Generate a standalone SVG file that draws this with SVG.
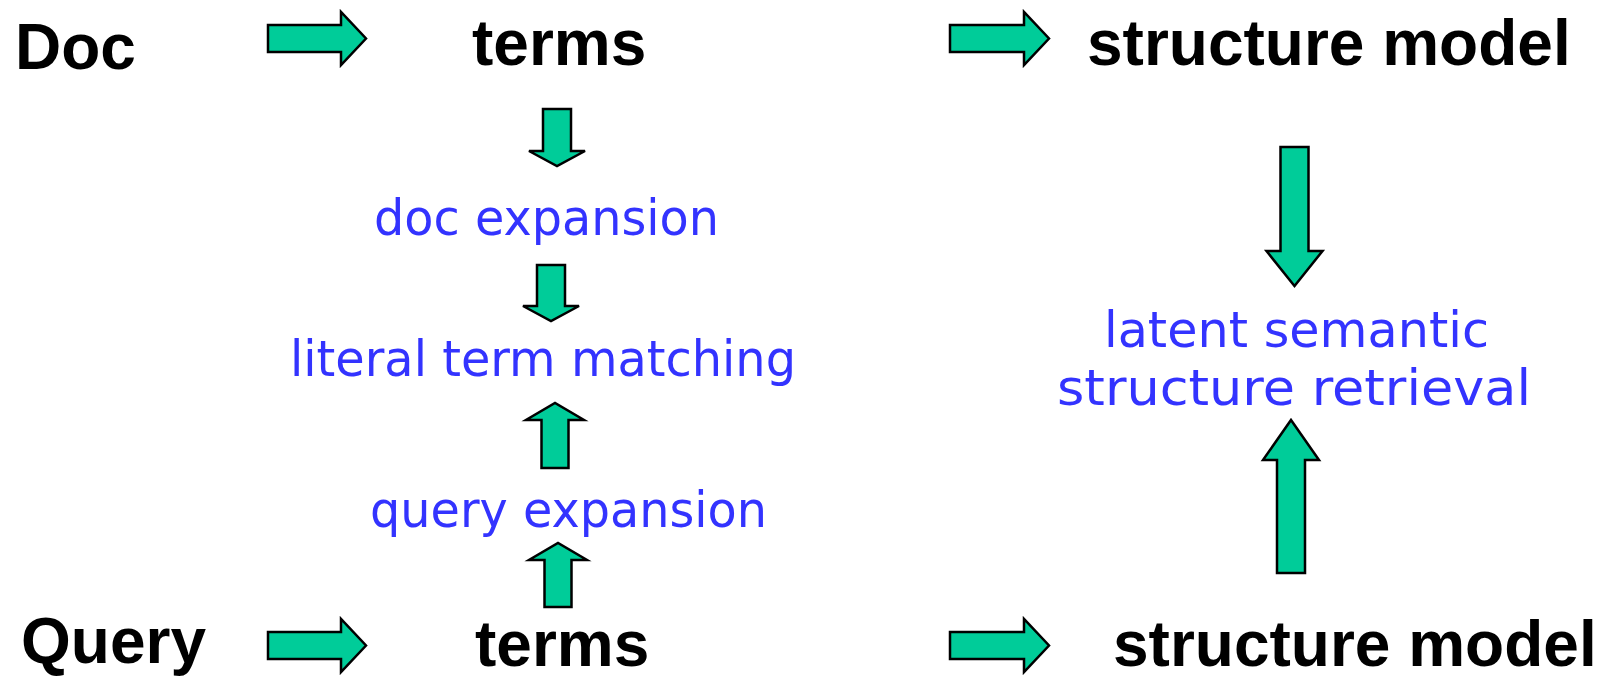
<svg xmlns="http://www.w3.org/2000/svg" width="1606" height="677" viewBox="0 0 1606 677">
<style>
.lbl{font-family:"Liberation Sans",Arial,sans-serif;font-weight:bold;font-size:64px;fill:#000}
.blue{font-family:"DejaVu Sans","Noto Sans",sans-serif;font-size:50px;fill:#3333FF;text-anchor:middle}
.arr{fill:#00CC99;stroke:#000;stroke-width:2.5;stroke-linejoin:miter}
</style>
<rect width="1606" height="677" fill="#fff"/>
<g id="connectors">
<path class="arr" d="M268,25 H341 V12 L366,38.5 L341,65 V52 H268 Z"/>
<path class="arr" d="M950,25 H1024 V12 L1049,38.5 L1024,65 V52 H950 Z"/>
<path class="arr" d="M268,632 H341 V619 L366,645.5 L341,672 V659 H268 Z"/>
<path class="arr" d="M950,632 H1024 V619 L1049,645.5 L1024,672 V659 H950 Z"/>
<path class="arr" d="M543,109 H571 V151 H585 L557,166 L529,151 H543 Z"/>
<path class="arr" d="M537,265 H565 V306 H579 L551,321 L523,306 H537 Z"/>
<path class="arr" d="M541.5,468 H568.5 V420 H584 L555,403 L526,420 H541.5 Z"/>
<path class="arr" d="M544.5,607 H571.5 V560 H587 L558,543 L529,560 H544.5 Z"/>
<path class="arr" d="M1280.5,147 H1308.5 V251 H1322.5 L1294.5,286 L1266.5,251 H1280.5 Z"/>
<path class="arr" d="M1277,573 H1305 V460 H1319 L1291,420 L1263,460 H1277 Z"/>
</g>
<g id="doc"><text class="lbl" x="15" y="69">Doc</text></g>
<g id="doc-terms"><text class="lbl" x="472" y="65">terms</text></g>
<g id="doc-structure"><text class="lbl" x="1087" y="65">structure model</text></g>
<g id="query"><text class="lbl" x="21" y="663">Query</text></g>
<g id="query-terms"><text class="lbl" x="475" y="666">terms</text></g>
<g id="query-structure"><text class="lbl" x="1113" y="666">structure model</text></g>
<g id="doc-expansion"><text class="blue" x="546.5" y="235" textLength="345" lengthAdjust="spacingAndGlyphs">doc expansion</text></g>
<g id="literal-matching"><text class="blue" x="543" y="376" textLength="506" lengthAdjust="spacingAndGlyphs">literal term matching</text></g>
<g id="query-expansion"><text class="blue" x="568.5" y="527" textLength="397" lengthAdjust="spacingAndGlyphs">query expansion</text></g>
<g id="lsi">
<text class="blue" x="1296.5" y="347" textLength="385" lengthAdjust="spacingAndGlyphs">latent semantic</text>
<text class="blue" x="1294" y="405" textLength="474" lengthAdjust="spacingAndGlyphs">structure retrieval</text>
</g>
</svg>
